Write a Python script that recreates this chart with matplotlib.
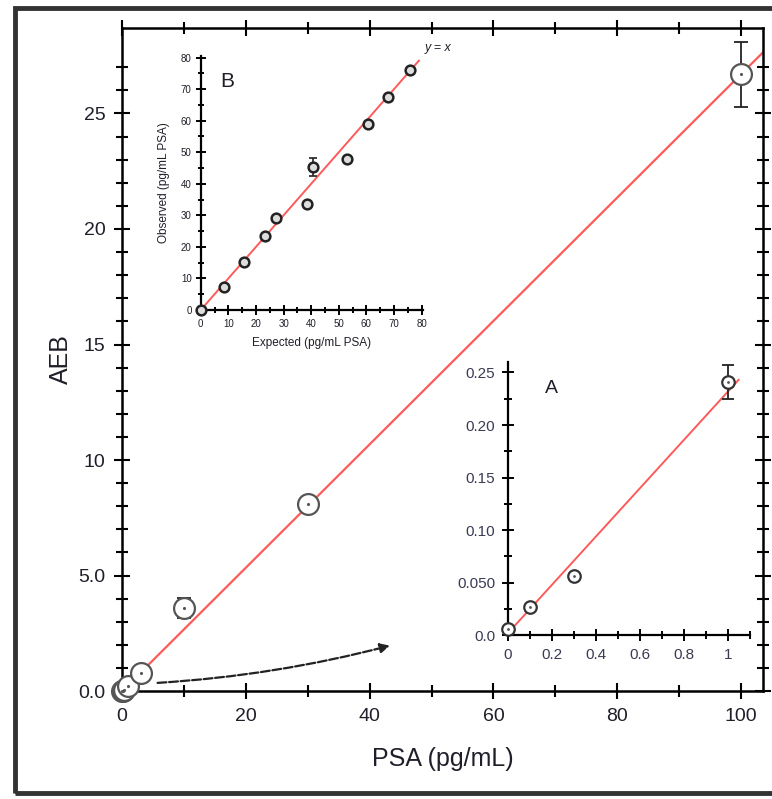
import matplotlib
matplotlib.use('Agg')
import matplotlib.pyplot as plt
from matplotlib.patches import Rectangle
import numpy as np

plt.rcParams['font.family'] = ['Liberation Sans', 'DejaVu Sans']

# main calibration data
psa = [0, 0.1, 0.3, 1, 3, 10, 30, 100]
aeb = [0.0, 0.027, 0.056, 0.24, 0.78, 3.6, 8.1, 26.7]
aeb_err = [0, 0, 0, 0.016, 0, 0.45, 0, 1.4]
fit_slope = 0.267
fit_x = [0, 104]

# inset A: low range
psa_a = [0, 0.1, 0.3, 1]
aeb_a = [0.006, 0.027, 0.056, 0.241]
aeb_a_err = [0, 0, 0, 0.016]
fit_a_x = [0, 1.05]
fit_a_y = [0.002, 0.243]

# inset B: expected vs observed
expected = [0, 8.3, 15.6, 23.4, 27.3, 38.4, 40.6, 53.1, 60.7, 67.9, 75.9]
observed = [0, 7.4, 15.3, 23.6, 29.0, 33.7, 45.3, 47.9, 58.9, 67.6, 76.0]
observed_err = [0, 0, 0, 0, 0, 0, 2.8, 0, 0, 0, 0]
yx_line = [0, 79]

txt = '#1f1f2a'
red = '#ff5a5a'

fig = plt.figure(figsize=(7.72, 7.99), dpi=100)

# outer frame
fig.patches.append(Rectangle((0.019, 0.008), 1.1, 0.982, transform=fig.transFigure,
                             fill=False, lw=3.5, ec='#333333', zorder=0))

ax = fig.add_axes([0.158, 0.135, 0.83, 0.83])
ax.plot(fit_x, [fit_slope * v for v in fit_x], color=red, lw=1.6, zorder=2)
ax.errorbar(psa, aeb, yerr=aeb_err, fmt='none', ecolor='#222222', elinewidth=1.3,
            capsize=5, capthick=1.3, zorder=3, clip_on=False)
ax.plot(psa, aeb, 'o', ms=15, mfc='white', mec='#555555', mew=1.6, zorder=4, clip_on=False)
ax.plot(psa, aeb, '.', ms=2.5, color='#555555', zorder=5, clip_on=False)
ax.set_xlim(0, 103.5)
ax.set_ylim(0, 28.7)
ax.set_xticks([0, 20, 40, 60, 80, 100])
ax.set_xticks(np.arange(10, 101, 20), minor=True)
ax.set_yticks([0, 5, 10, 15, 20, 25])
ax.set_yticklabels(['0.0', '5.0', '10', '15', '20', '25'])
ax.set_yticks([v for v in range(1, 28) if v % 5], minor=True)
ax.tick_params(which='both', direction='inout', top=True, right=True, width=1.5,
               labelsize=14, labelcolor=txt, pad=6)
ax.tick_params(which='major', length=12)
ax.tick_params(which='minor', length=9)
for s in ax.spines.values():
    s.set_linewidth(1.8)
ax.set_xlabel('PSA (pg/mL)', fontsize=18, color=txt, labelpad=16)
ax.set_ylabel('AEB', fontsize=18, color=txt, labelpad=4)

ax.annotate('', xy=(43.7, 2.0), xytext=(5.3, 0.35),
            arrowprops=dict(arrowstyle='-|>', color='#222222', lw=1.6,
                            linestyle=(0, (4, 1.2)), mutation_scale=14,
                            connectionstyle='arc3,rad=0.05'))

# inset B
axb = fig.add_axes([0.260, 0.612, 0.288, 0.318])
axb.patch.set_alpha(0)
axb.plot(yx_line, yx_line, color=red, lw=1.4, zorder=2)
axb.errorbar(expected, observed, yerr=observed_err, fmt='none', ecolor='#222222',
             elinewidth=1.2, capsize=3, capthick=1.2, zorder=3, clip_on=False)
axb.plot(expected, observed, 'o', ms=7, mfc='#dddddd', mec='#222222', mew=1.8,
         zorder=4, clip_on=False)
axb.set_xlim(0, 80.5)
axb.set_ylim(0, 80.5)
axb.set_xticks(range(0, 81, 10))
axb.set_yticks(range(0, 81, 10))
axb.set_xticks(range(5, 80, 10), minor=True)
axb.set_yticks(range(5, 80, 10), minor=True)
axb.spines['top'].set_visible(False)
axb.spines['right'].set_visible(False)
for s in ['left', 'bottom']:
    axb.spines[s].set_linewidth(1.6)
axb.tick_params(which='both', direction='inout', width=1.4, labelsize=7,
                labelcolor=txt, pad=3)
axb.tick_params(which='major', length=7)
axb.tick_params(which='minor', length=5)
axb.set_xlabel('Expected (pg/mL PSA)', fontsize=8.5, color=txt, labelpad=6)
axb.set_ylabel('Observed (pg/mL PSA)', fontsize=8.5, color=txt, labelpad=8)
axb.text(0.12, 0.9, 'B', transform=axb.transAxes, fontsize=15, color=txt,
         ha='center', va='center')
axb.text(81, 83, 'y = x', fontsize=9, style='italic', color=txt, ha='left', va='center')

# inset A
axa = fig.add_axes([0.658, 0.205, 0.313, 0.342])
axa.patch.set_alpha(0)
axa.plot(fit_a_x, fit_a_y, color=red, lw=1.4, zorder=2)
axa.errorbar(psa_a, aeb_a, yerr=aeb_a_err, fmt='none', ecolor='#222222',
             elinewidth=1.3, capsize=4, capthick=1.3, zorder=3, clip_on=False)
axa.plot(psa_a, aeb_a, 'o', ms=9, mfc='white', mec='#333333', mew=1.6,
         zorder=4, clip_on=False)
axa.plot(psa_a, aeb_a, '.', ms=2, color='#555555', zorder=5, clip_on=False)
axa.set_xlim(0, 1.1)
axa.set_ylim(0, 0.26)
axa.set_xticks([0, 0.2, 0.4, 0.6, 0.8, 1.0])
axa.set_xticklabels(['0', '0.2', '0.4', '0.6', '0.8', '1'])
axa.set_xticks([0.1, 0.3, 0.5, 0.7, 0.9, 1.1], minor=True)
axa.set_yticks([0, 0.05, 0.10, 0.15, 0.20, 0.25])
axa.set_yticklabels(['0.0', '0.050', '0.10', '0.15', '0.20', '0.25'])
axa.set_yticks([0.025, 0.075, 0.125, 0.175, 0.225], minor=True)
axa.spines['top'].set_visible(False)
axa.spines['right'].set_visible(False)
for s in ['left', 'bottom']:
    axa.spines[s].set_linewidth(1.6)
axa.tick_params(which='both', direction='inout', width=1.4, labelsize=11,
                labelcolor='#3a3a55', pad=5)
axa.tick_params(which='major', length=8)
axa.tick_params(which='minor', length=6)
axa.text(0.2, 0.235, 'A', fontsize=14, color=txt, ha='center', va='center')

fig.savefig('out.png', dpi=100)
